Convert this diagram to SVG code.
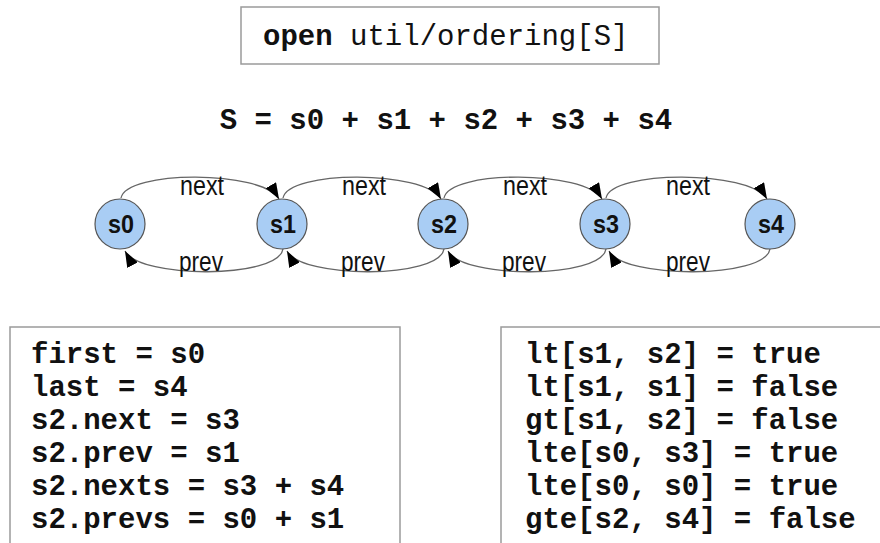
<svg xmlns="http://www.w3.org/2000/svg" width="880" height="543" viewBox="0 0 880 543">
<style>
.box{fill:#fff;stroke:#9a9a9a;stroke-width:1.5}
.mono{font-family:"Liberation Mono","Courier New",monospace;font-size:29px;fill:#111}
.b{font-weight:bold}
.node circle{fill:#a9cdf4;stroke:#555;stroke-width:1.2}
.node text{font-family:"Liberation Sans",Arial,sans-serif;font-weight:bold;font-size:25px;fill:#111;text-anchor:middle}
.edge{fill:none;stroke:#666;stroke-width:1.3}
.lbl{font-family:"Liberation Sans",Arial,sans-serif;font-size:28px;fill:#111;text-anchor:middle}
</style>
<defs>
<marker id="ah" viewBox="0 0 16 12" refX="16" refY="6" markerWidth="16" markerHeight="12" markerUnits="userSpaceOnUse" orient="auto">
<path d="M0,0 L16,6 L0,12 z" fill="#000"/>
</marker>
</defs>
<rect width="880" height="543" fill="#fff"/>
<g id="header">
<rect class="box" x="241" y="7" width="418" height="57"/>
<text class="mono" x="263" y="45"><tspan class="b">open</tspan> util/ordering[S]</text>
</g>
<text class="mono b" x="446" y="129" text-anchor="middle">S = s0 + s1 + s2 + s3 + s4</text>
<g id="connectors">
<path class="edge" marker-end="url(#ah)" d="M121,198 C126,170 262,170 279,199"/>
<path class="edge" marker-end="url(#ah)" d="M283,198 C288,170 424,170 441,199"/>
<path class="edge" marker-end="url(#ah)" d="M444,198 C449,170 585,170 602,199"/>
<path class="edge" marker-end="url(#ah)" d="M606,198 C611,170 750,170 767,199"/>
<path class="edge" marker-end="url(#ah)" d="M283,249 C278,279 140,279 125,251"/>
<path class="edge" marker-end="url(#ah)" d="M444,249 C439,279 302,279 287,251"/>
<path class="edge" marker-end="url(#ah)" d="M606,249 C601,279 463,279 448,251"/>
<path class="edge" marker-end="url(#ah)" d="M770,249 C765,279 624,279 609,251"/>
<text class="lbl" x="202" y="195" textLength="44" lengthAdjust="spacingAndGlyphs">next</text>
<text class="lbl" x="364" y="195" textLength="44" lengthAdjust="spacingAndGlyphs">next</text>
<text class="lbl" x="525" y="195" textLength="44" lengthAdjust="spacingAndGlyphs">next</text>
<text class="lbl" x="688" y="195" textLength="44" lengthAdjust="spacingAndGlyphs">next</text>
<text class="lbl" x="201" y="271" textLength="44" lengthAdjust="spacingAndGlyphs">prev</text>
<text class="lbl" x="363" y="271" textLength="44" lengthAdjust="spacingAndGlyphs">prev</text>
<text class="lbl" x="524" y="271" textLength="44" lengthAdjust="spacingAndGlyphs">prev</text>
<text class="lbl" x="688" y="271" textLength="44" lengthAdjust="spacingAndGlyphs">prev</text>
</g>
<g id="s0" class="node"><circle cx="120" cy="224" r="25"/><text x="121" y="233" textLength="26" lengthAdjust="spacingAndGlyphs">s0</text></g>
<g id="s1" class="node"><circle cx="282" cy="224" r="25"/><text x="283" y="233" textLength="26" lengthAdjust="spacingAndGlyphs">s1</text></g>
<g id="s2" class="node"><circle cx="443" cy="224" r="25"/><text x="444" y="233" textLength="26" lengthAdjust="spacingAndGlyphs">s2</text></g>
<g id="s3" class="node"><circle cx="605" cy="224" r="25"/><text x="606" y="233" textLength="26" lengthAdjust="spacingAndGlyphs">s3</text></g>
<g id="s4" class="node"><circle cx="770" cy="224" r="25"/><text x="771" y="233" textLength="26" lengthAdjust="spacingAndGlyphs">s4</text></g>
<g id="left-facts">
<rect class="box" x="10" y="327" width="390" height="230"/>
<text class="mono b" x="31" y="363">first = s0</text>
<text class="mono b" x="31" y="396">last = s4</text>
<text class="mono b" x="31" y="429">s2.next = s3</text>
<text class="mono b" x="31" y="462">s2.prev = s1</text>
<text class="mono b" x="31" y="495">s2.nexts = s3 + s4</text>
<text class="mono b" x="31" y="528">s2.prevs = s0 + s1</text>
</g>
<g id="right-facts">
<rect class="box" x="501" y="327" width="400" height="230"/>
<text class="mono b" x="525" y="363">lt[s1, s2] = true</text>
<text class="mono b" x="525" y="396">lt[s1, s1] = false</text>
<text class="mono b" x="525" y="429">gt[s1, s2] = false</text>
<text class="mono b" x="525" y="462">lte[s0, s3] = true</text>
<text class="mono b" x="525" y="495">lte[s0, s0] = true</text>
<text class="mono b" x="525" y="528">gte[s2, s4] = false</text>
</g>
</svg>
